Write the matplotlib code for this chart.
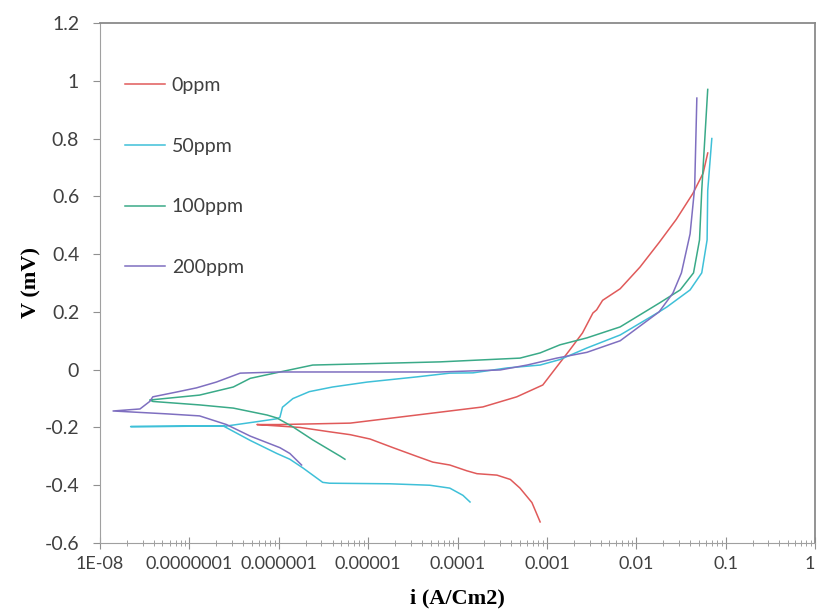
import matplotlib
matplotlib.use("Agg")
import matplotlib.pyplot as plt
from matplotlib.ticker import FixedLocator, LogLocator, NullFormatter

# Polarization curves, each read in drawing order (cathodic end -> Ecorr -> anodic end)
# current density i (A/cm2), potential V
i_0ppm = [8.4e-4, 6.8e-4, 5.0e-4, 3.9e-4, 2.76e-4, 1.65e-4, 1.27e-4, 8.2e-5, 5.3e-5, 3.5e-5,
          1.9e-5, 1.05e-5, 6.3e-6, 3.7e-6, 1.73e-6, 5.7e-7, 1.0e-6, 6.3e-6, 3.5e-5, 1.92e-4,
          4.6e-4, 9.0e-4, 1.29e-3, 1.8e-3, 2.5e-3, 3.27e-3, 3.6e-3, 4.2e-3, 6.6e-3, 0.011,
          0.018, 0.028, 0.043, 0.056, 0.063]
v_0ppm = [-0.527, -0.46, -0.41, -0.38, -0.365, -0.36, -0.35, -0.33, -0.32, -0.30,
          -0.27, -0.24, -0.225, -0.215, -0.20, -0.19, -0.19, -0.185, -0.157, -0.129,
          -0.094, -0.053, 0.01, 0.068, 0.127, 0.196, 0.207, 0.24, 0.28, 0.355,
          0.44, 0.52, 0.61, 0.68, 0.75]

i_50ppm = [1.38e-4, 1.15e-4, 8.2e-5, 4.9e-5, 1.75e-5, 3.7e-6, 3.1e-6, 1.86e-6, 1.33e-6, 9.5e-7,
           4.8e-7, 2.4e-7, 2.2e-8, 2.6e-7, 5.7e-7, 9.5e-7, 1.03e-6, 1.1e-6, 1.44e-6, 2.2e-6,
           4.0e-6, 9.7e-6, 3.5e-5, 8.2e-5, 1.49e-4, 3.6e-4, 8.4e-4, 1.4e-3, 2.8e-3, 6.6e-3,
           0.018, 0.022, 0.040, 0.054, 0.062, 0.063, 0.070]
v_50ppm = [-0.458, -0.435, -0.41, -0.40, -0.395, -0.393, -0.39, -0.34, -0.31, -0.29,
           -0.245, -0.195, -0.197, -0.195, -0.18, -0.17, -0.165, -0.13, -0.10, -0.076,
           -0.06, -0.043, -0.025, -0.012, -0.011, 0.006, 0.016, 0.035, 0.075, 0.12,
           0.20, 0.217, 0.276, 0.335, 0.449, 0.62, 0.80]

i_100ppm = [5.5e-6, 4.9e-6, 2.4e-6, 1.44e-6, 9.5e-7, 7.4e-7, 3.1e-7, 1.3e-7, 3.9e-8, 3.6e-8,
            1.3e-7, 3.1e-7, 4.8e-7, 1.03e-6, 2.4e-6, 8.1e-6, 6.4e-5, 5.0e-4, 8.4e-4, 1.4e-3,
            2.8e-3, 6.6e-3, 0.018, 0.031, 0.0437, 0.051, 0.054, 0.063]
v_100ppm = [-0.31, -0.30, -0.243, -0.198, -0.167, -0.157, -0.133, -0.122, -0.11, -0.105,
            -0.088, -0.06, -0.03, -0.008, 0.016, 0.02, 0.027, 0.04, 0.058, 0.086,
            0.11, 0.148, 0.23, 0.276, 0.335, 0.449, 0.62, 0.97]

i_200ppm = [1.8e-6, 1.33e-6, 1.03e-6, 4.8e-7, 2.6e-7, 1.3e-7, 5.6e-8, 1.4e-8, 2.8e-8, 3.6e-8,
            3.9e-8, 7.3e-8, 1.2e-7, 2.0e-7, 3.7e-7, 1.03e-6, 6.4e-5, 3.0e-4, 6.0e-4, 1.29e-3,
            2.8e-3, 6.6e-3, 0.018, 0.0257, 0.032, 0.040, 0.045, 0.0476]
v_200ppm = [-0.33, -0.29, -0.27, -0.23, -0.19, -0.16, -0.153, -0.143, -0.136, -0.11,
            -0.094, -0.077, -0.063, -0.043, -0.012, -0.008, -0.008, -0.001, 0.016, 0.04,
            0.06, 0.10, 0.20, 0.265, 0.335, 0.47, 0.63, 0.94]

labels = ["0ppm", "50ppm", "100ppm", "200ppm"]
colors = ["#e05a5a", "#3fc0d8", "#3aaa88", "#7f6fc0"]

x_ticks = [1e-8, 1e-7, 1e-6, 1e-5, 1e-4, 1e-3, 1e-2, 1e-1, 1]
x_ticklabels = ["1E-08", "0.0000001", "0.000001", "0.00001", "0.0001", "0.001", "0.01", "0.1", "1"]
y_ticks = [-0.6, -0.4, -0.2, 0, 0.2, 0.4, 0.6, 0.8, 1, 1.2]
y_ticklabels = ["-0.6", "-0.4", "-0.2", "0", "0.2", "0.4", "0.6", "0.8", "1", "1.2"]

fig = plt.figure(figsize=(8.17, 6.14), dpi=100)
ax = fig.add_axes([0.1224, 0.1156, 0.8752, 0.847])

series = [(i_0ppm, v_0ppm), (i_50ppm, v_50ppm), (i_100ppm, v_100ppm), (i_200ppm, v_200ppm)]
for (xs, ys), lab, col in zip(series, labels, colors):
    ax.plot(xs, ys, color=col, lw=1.1, label=lab)

ax.set_xscale("log")
ax.set_xlim(1e-8, 1)
ax.set_ylim(-0.6, 1.2)

ax.xaxis.set_major_locator(FixedLocator(x_ticks))
ax.set_xticklabels(x_ticklabels)
ax.xaxis.set_minor_locator(LogLocator(base=10, subs=range(2, 10), numticks=20))
ax.xaxis.set_minor_formatter(NullFormatter())
ax.set_yticks(y_ticks)
ax.set_yticklabels(y_ticklabels)

for lab in ax.get_xticklabels():
    lab.set_fontfamily("Lato")
    lab.set_fontsize(13)
    lab.set_color("#404040")
ax.get_xticklabels()[-1].set_horizontalalignment("right")
for lab in ax.get_yticklabels():
    lab.set_fontfamily("Lato")
    lab.set_fontsize(14)
    lab.set_color("#404040")

ax.tick_params(axis="x", which="major", direction="inout", length=8, color="#909090", pad=5)
ax.tick_params(axis="x", which="minor", direction="inout", length=5, color="#909090")
ax.tick_params(axis="y", which="major", direction="out", length=5, color="#909090", pad=10)

for side in ["left", "bottom"]:
    ax.spines[side].set_color("#a0a0a0")
for side in ["top", "right"]:
    ax.spines[side].set_color("#8a8a8a")
    ax.spines[side].set_linewidth(1.3)

ax.set_xlabel("i (A/Cm2)", fontfamily="Liberation Serif", fontweight="bold", fontsize=16, labelpad=12)
ax.set_ylabel("V (mV)", fontfamily="Liberation Serif", fontweight="bold", fontsize=16, labelpad=2)

leg = ax.legend(loc="upper left", bbox_to_anchor=(0.010, 0.93), frameon=False,
                handlelength=2.06, handletextpad=0.36, labelspacing=2.25,
                prop={"family": "Lato", "size": 14})
for t in leg.get_texts():
    t.set_color("#404040")

fig.savefig("out.png", dpi=100)
